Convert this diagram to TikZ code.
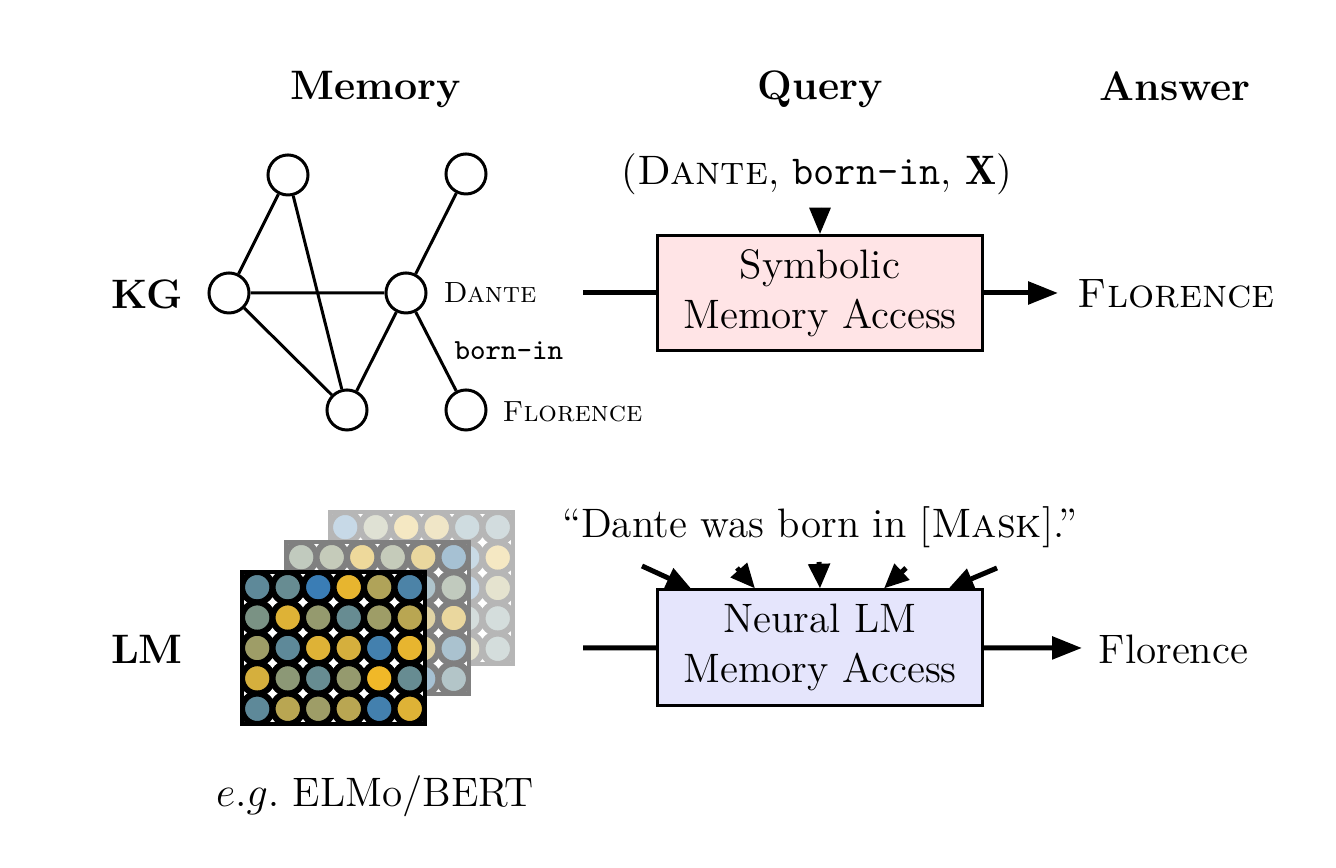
\documentclass[tikz,border=0pt]{standalone}
\usepackage{fontspec}
\usetikzlibrary{arrows.meta,calc,positioning}
\definecolor{kgpink}{RGB}{255,228,230}
\definecolor{lmlav}{RGB}{229,229,252}
\definecolor{lmblue}{RGB}{58,125,181}
\definecolor{lmgold}{RGB}{240,184,40}
\definecolor{midgray}{RGB}{128,128,128}
\definecolor{backgray}{RGB}{182,182,182}
\newcommand\figfont{\fontsize{11.7}{14.2}\selectfont}
\newcommand\lblfont{\fontsize{8.3}{10}\selectfont}
\tikzset{
  head/.style={font=\figfont\bfseries,anchor=base},
  vert/.style={circle,draw,line width=0.85pt,minimum size=0.4cm,inner sep=0pt},
  edge/.style={line width=0.85pt},
  lbl/.style={font=\lblfont,anchor=base west,inner sep=0pt},
  membox/.style={draw,line width=0.85pt,minimum width=3.25cm,minimum height=1.15cm,
    align=center,inner sep=0pt},
  feed/.style={line width=1.42pt},
  outarr/.style={feed,-{Triangle[length=8.5pt,width=6.3pt]}},
  qarr/.style={line width=0.85pt,-{Triangle[length=7.5pt,width=6pt]}},
  lmarr/.style={feed,-{Triangle[length=7pt,width=6pt]}}
}
\begin{document}
\begin{tikzpicture}[x=0.01cm,y=-0.01cm,every node/.style={font=\figfont}]
  \useasboundingbox (0,0) rectangle (1336,868);
  % column and row heads
  \node[head] (memhead) at (376,100) {Memory};
  \node[head] (qhead) at (820,100) {Query};
  \node[head] (anshead) at (1175,101) {Answer};
  \node[head] (kg) at (147,309) {KG};
  \node[head] (lm) at (147,664) {LM};

  % knowledge graph
  \node[vert] (v1) at (288,175) {};
  \node[vert] (v2) at (466,174) {};
  \node[vert] (v3) at (229,293) {};
  \node[vert] (dante) at (406,293) {};
  \node[vert] (v5) at (347,410) {};
  \node[vert] (flor) at (466,410) {};
  \draw[edge] (v3) -- (v1) (v1) -- (v5) (v3) -- (dante) (v3) -- (v5)
    (dante) -- (v2) (dante) -- (v5) (dante) -- (flor);
  \node[lbl] (dantelbl) at (443,303) {\textsc{Dante}};
  \node[lbl] (bornlbl) at (454,360) {\texttt{born-in}};
  \node[lbl] (florlbl) at (502,422) {\textsc{Florence}};

  % symbolic access
  \node[membox,fill=kgpink] (sym) at (820,293) {Symbolic\\Memory Access};
  \node[anchor=base] (kgq) at (817,185) {(\textsc{Dante}, \texttt{born-in}, $\mathbf{X}$)};
  \draw[qarr] (sym.north |- kgq.south) -- (sym.north);
  \coordinate (kgin) at (583,293);
  \coordinate (kgout) at (1058,293);
  \draw[feed] (kgin) -- (sym);
  \draw[outarr] (sym) -- (kgout);
  \node[anchor=base west,inner sep=0pt] (kgans) at (1077,308) {\textsc{Florence}};

  % stacked LM layers
  \begin{scope}
    \clip (330,512) rectangle ++(183,152);
    \fill[white] (330,512) rectangle ++(183,152);
    \foreach \row [count=\r from 0] in {{5,50,90,80,20,25},{40,40,40,40,10,90},
      {40,40,40,40,5,60},{40,40,40,40,30,30},{40,40,40,40,60,30}}
      \foreach \p [count=\c from 0] in \row
        \draw[line width=1.7pt,draw=backgray,fill=lmgold!\p!lmblue!30!white]
          (345.25+\c*30.5,527.2+\r*30.4) circle (15.2);
  \end{scope}
  \draw[line width=0.9pt,draw=backgray] (330,512) rectangle ++(183,152);
  \begin{scope}
    \clip (286,542) rectangle ++(183,152);
    \fill[white] (286,542) rectangle ++(183,152);
    \foreach \row [count=\r from 0] in {{40,45,90,45,85,10},{50,50,50,50,20,40},
      {50,50,50,50,75,85},{50,50,50,50,80,15},{50,50,50,50,10,25}}
      \foreach \p [count=\c from 0] in \row
        \draw[line width=1.7pt,draw=midgray,fill=lmgold!\p!lmblue!50!white]
          (301.25+\c*30.5,557.2+\r*30.4) circle (15.2);
  \end{scope}
  \draw[line width=0.9pt,draw=midgray] (286,542) rectangle ++(183,152);
  \begin{scope}
    \clip (242,572) rectangle ++(183,152);
    \fill[white] (242,572) rectangle ++(183,152);
    \foreach \row [count=\r from 0] in {{20,25,0,95,65,10},{35,90,50,25,55,70},
      {55,20,90,85,5,95},{85,45,25,50,100,25},{20,70,55,70,5,90}}
      \foreach \p [count=\c from 0] in \row
        \draw[line width=1.7pt,draw=black,fill=lmgold!\p!lmblue]
          (257.25+\c*30.5,587.2+\r*30.4) circle (15.2);
  \end{scope}
  \draw[line width=0.9pt] (242,572) rectangle ++(183,152);
  \node[anchor=base] (elmo) at (375,807) {$e.g.$ ELMo/BERT};

  % neural access
  \node[membox,fill=lmlav] (neu) at (820,647.5) {Neural LM\\Memory Access};
  \node[anchor=base] (lmq) at (820,538) {``Dante was born in [\textsc{Mask}].''};
  \foreach \tx/\ty/\f [count=\k] in {642/566/0.107,737/568/0.302,819/562/0.5,
    906/568/0.695,997/568/0.892}{
    \coordinate (tail\k) at (\tx,\ty);
    \draw[lmarr] (tail\k) -- ($(neu.north west)!\f!(neu.north east)$);
  }
  \coordinate (lmin) at (583,648);
  \coordinate (lmout) at (1082,648);
  \draw[feed] (lmin) -- (neu);
  \draw[outarr] (neu) -- (lmout);
  \node[anchor=base west,inner sep=0pt] (lmans) at (1098,664) {Florence};
\end{tikzpicture}
\end{document}
